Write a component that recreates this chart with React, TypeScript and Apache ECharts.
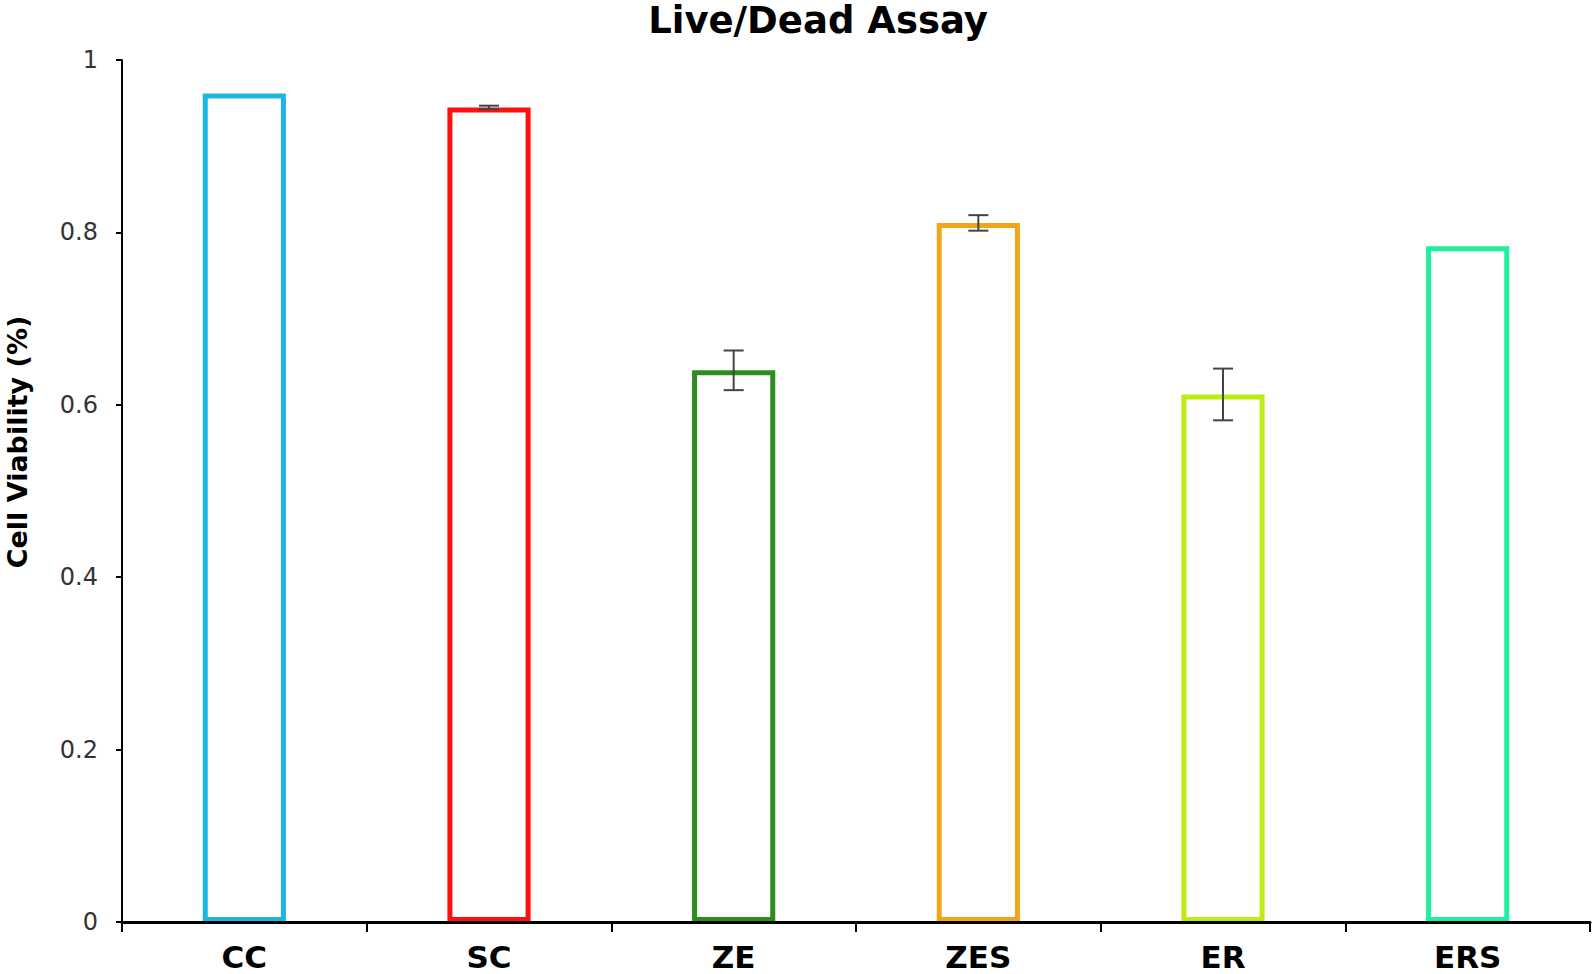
import React, { useEffect, useRef } from "react";
import * as echarts from "echarts";

const categories = ["CC", "SC", "ZE", "ZES", "ER", "ERS"];
const viability = [0.961, 0.945, 0.64, 0.811, 0.612, 0.784];
const errors = [0.0, 0.002, 0.023, 0.009, 0.03, 0.0];
const barColors = ["#1DB6E0", "#FF1010", "#2E8B1E", "#F2A516", "#BDEB16", "#1EF0A0"];
const yTicks = [0, 0.2, 0.4, 0.6, 0.8, 1];

export default function App() {
  const ref = useRef<HTMLDivElement>(null);
  useEffect(() => {
    if (!ref.current) return;
    const chart = echarts.init(ref.current, null, { renderer: "svg" });
    const errData = categories.map((_, i) => [i, viability[i] - errors[i], viability[i] + errors[i]]);
    chart.setOption({
      animation: false,
      backgroundColor: "#ffffff",
      title: {
        text: "Live/Dead Assay",
        left: 818,
        top: 2,
        padding: 0,
        textAlign: "center",
        textStyle: { fontFamily: "DejaVu Sans", fontWeight: "bold", fontSize: 37, color: "#000" },
      },
      graphic: [
        {
          type: "text",
          x: 17,
          y: 442,
          rotation: Math.PI / 2,
          style: {
            text: "Cell Viability (%)",
            fontFamily: "DejaVu Sans",
            fontWeight: "bold",
            fontSize: 27,
            fill: "#000",
            align: "center",
            verticalAlign: "middle",
          },
        },
      ],
      grid: { left: 122, right: 3, top: 60, bottom: 52, containLabel: false },
      xAxis: {
        type: "category",
        data: categories,
        z: 5,
        axisLine: { lineStyle: { color: "#000", width: 3 } },
        axisTick: { show: true, alignWithLabel: false, length: 10, lineStyle: { color: "#000", width: 2 } },
        axisLabel: {
          fontFamily: "DejaVu Sans",
          fontWeight: "bold",
          fontSize: 31,
          color: "#000",
          margin: 19,
        },
      },
      yAxis: {
        type: "value",
        min: 0,
        max: 1,
        interval: 0.2,
        axisLine: { show: true, lineStyle: { color: "#000", width: 2 } },
        axisTick: { show: true, length: 6, lineStyle: { color: "#000", width: 2 } },
        splitLine: { show: false },
        axisLabel: {
          fontFamily: "DejaVu Sans",
          fontSize: 24,
          color: "#333",
          margin: 24,
          formatter: (v: number) => (yTicks.includes(v) ? String(Number(v.toFixed(1))) : ""),
        },
      },
      series: [
        {
          type: "bar",
          barWidth: "34%",
          data: viability.map((v, i) => ({
            value: v,
            itemStyle: { color: "rgba(255,255,255,0)", borderColor: barColors[i], borderWidth: 5 },
          })),
          z: 2,
        },
        {
          type: "custom",
          z: 3,
          data: errData,
          renderItem: (params: any, api: any) => {
            const x = api.value(0);
            const lo = api.coord([x, api.value(1)]);
            const hi = api.coord([x, api.value(2)]);
            if (Math.abs(hi[1] - lo[1]) < 0.5) return null;
            const cap = 10;
            const style = { stroke: "#444", lineWidth: 2 };
            return {
              type: "group",
              children: [
                { type: "line", shape: { x1: lo[0], y1: lo[1], x2: hi[0], y2: hi[1] }, style },
                { type: "line", shape: { x1: lo[0] - cap, y1: lo[1], x2: lo[0] + cap, y2: lo[1] }, style },
                { type: "line", shape: { x1: hi[0] - cap, y1: hi[1], x2: hi[0] + cap, y2: hi[1] }, style },
              ],
            };
          },
        },
      ],
    });
    return () => chart.dispose();
  }, []);
  return <div ref={ref} style={{ position: "fixed", left: 0, top: 0, width: 1593, height: 974 }} />;
}
